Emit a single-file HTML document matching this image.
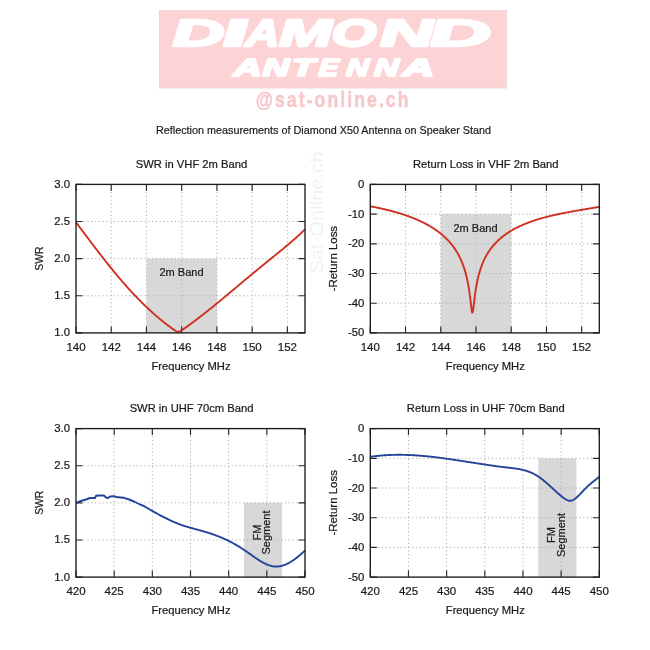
<!DOCTYPE html>
<html><head><meta charset="utf-8"><style>
html,body{margin:0;padding:0;background:#fff;width:650px;height:650px;overflow:hidden}
svg{display:block;will-change:transform}
text{font-family:"Liberation Sans",sans-serif}
</style></head><body>
<svg width="650" height="650" viewBox="0 0 650 650" font-family="Liberation Sans, sans-serif">
<rect width="650" height="650" fill="#fff"/>

<rect x="159.5" y="10.5" width="347" height="77.5" fill="#fdd4d6" stroke="#ecd6d6" stroke-width="1"/>
<g font-weight="bold" font-style="italic" fill="#fff" stroke="#fff" stroke-width="2.4" stroke-linejoin="round">
<text transform="matrix(1.909,0,0.072,1,173.05,46.10)" font-size="37.96">D</text>
<text transform="matrix(2.392,0,0.167,1,223.80,46.10)" font-size="37.96">I</text>
<text transform="matrix(1.229,0,-0.060,1,245.14,46.10)" font-size="37.96">A</text>
<text transform="matrix(1.679,0,0.027,1,279.19,46.10)" font-size="37.96">M</text>
<text transform="matrix(1.518,0,-0.004,1,331.61,46.10)" font-size="37.96">O</text>
<text transform="matrix(1.976,0,0.085,1,380.51,46.10)" font-size="37.96">N</text>
<text transform="matrix(2.263,0,0.141,1,430.84,46.10)" font-size="37.96">D</text>
</g>
<g font-weight="bold" font-style="italic" fill="#fff" stroke="#fff" stroke-width="2.0" stroke-linejoin="round">
<text transform="matrix(1.581,0,-0.012,1,233.58,75.70)" font-size="24.58">A</text>
<text transform="matrix(1.488,0,-0.030,1,262.42,75.70)" font-size="24.58">N</text>
<text transform="matrix(1.520,0,-0.024,1,291.61,75.70)" font-size="24.58">T</text>
<text transform="matrix(1.203,0,-0.085,1,317.95,75.70)" font-size="24.58">E</text>
<text transform="matrix(1.259,0,-0.074,1,345.81,75.70)" font-size="24.58">N</text>
<text transform="matrix(1.370,0,-0.053,1,373.67,75.70)" font-size="24.58">N</text>
<text transform="matrix(1.783,0,0.028,1,402.38,75.70)" font-size="24.58">A</text>
</g>
<text transform="translate(255.7,106.6) scale(0.8,1)" x="0" y="0" font-size="22" font-weight="bold" fill="#f6c8cb" stroke="#f6c8cb" stroke-width="0.5" textLength="191" lengthAdjust="spacing">@sat-online.ch</text>
<text transform="translate(323,212.6) rotate(-90)" font-size="18.5" text-anchor="middle" fill="#f1f1f1" textLength="122" lengthAdjust="spacingAndGlyphs">Sat-Online.ch</text>
<text x="323.5" y="134.2" font-size="11.4" text-anchor="middle" fill="#1a1a1a" stroke="#1a1a1a" stroke-width="0.2" textLength="335" lengthAdjust="spacingAndGlyphs">Reflection measurements of Diamond X50 Antenna on Speaker Stand</text>

<g stroke-width="0">
<rect x="146.46" y="258.65" width="70.46" height="74.25" fill="#d8d8d8"/>
<path d="M111.23 184.4V332.9M146.46 184.4V332.9M181.69 184.4V332.9M216.92 184.4V332.9M252.15 184.4V332.9M287.38 184.4V332.9M76 295.77H305M76 258.65H305M76 221.53H305" stroke="#b0b0b0" stroke-width="1" stroke-dasharray="1.2 2.6" fill="none"/>
<path d="M76 332.9v-6.5M76 184.4v6.5M111.23 332.9v-6.5M111.23 184.4v6.5M146.46 332.9v-6.5M146.46 184.4v6.5M181.69 332.9v-6.5M181.69 184.4v6.5M216.92 332.9v-6.5M216.92 184.4v6.5M252.15 332.9v-6.5M252.15 184.4v6.5M287.38 332.9v-6.5M287.38 184.4v6.5M76 332.9h6.5M305 332.9h-6.5M76 295.77h6.5M305 295.77h-6.5M76 258.65h6.5M305 258.65h-6.5M76 221.53h6.5M305 221.53h-6.5M76 184.4h6.5M305 184.4h-6.5" stroke="#2a2a2a" stroke-width="1.15" fill="none"/>
<text x="181.5" y="276" font-size="11" text-anchor="middle" fill="#1a1a1a" stroke="#1a1a1a" stroke-width="0.22" >2m Band</text>
<polyline points="76,222.38 76.46,222.98 76.92,223.59 77.38,224.19 77.84,224.8 78.29,225.4 78.75,226.01 79.21,226.62 79.67,227.23 80.13,227.83 80.59,228.44 81.05,229.05 81.51,229.66 81.97,230.27 82.42,230.88 82.88,231.49 83.34,232.1 83.8,232.7 84.26,233.31 84.72,233.92 85.18,234.53 85.64,235.14 86.1,235.75 86.56,236.36 87.01,236.97 87.47,237.58 87.93,238.19 88.39,238.79 88.85,239.4 89.31,240.01 89.77,240.62 90.23,241.22 90.69,241.83 91.14,242.44 91.6,243.04 92.06,243.65 92.52,244.25 92.98,244.86 93.44,245.46 93.9,246.07 94.36,246.67 94.82,247.27 95.27,247.87 95.73,248.48 96.19,249.08 96.65,249.68 97.11,250.27 97.57,250.87 98.03,251.47 98.49,252.07 98.95,252.66 99.4,253.26 99.86,253.85 100.32,254.45 100.78,255.04 101.24,255.63 101.7,256.22 102.16,256.81 102.62,257.4 103.08,257.99 103.54,258.58 103.99,259.16 104.45,259.75 104.91,260.33 105.37,260.91 105.83,261.5 106.29,262.08 106.75,262.66 107.21,263.23 107.67,263.81 108.12,264.39 108.58,264.96 109.04,265.54 109.5,266.11 109.96,266.68 110.42,267.25 110.88,267.82 111.34,268.38 111.8,268.95 112.25,269.51 112.71,270.08 113.17,270.64 113.63,271.2 114.09,271.76 114.55,272.31 115.01,272.87 115.47,273.43 115.93,273.98 116.38,274.53 116.84,275.08 117.3,275.63 117.76,276.18 118.22,276.72 118.68,277.27 119.14,277.81 119.6,278.35 120.06,278.89 120.52,279.43 120.97,279.96 121.43,280.5 121.89,281.03 122.35,281.56 122.81,282.09 123.27,282.62 123.73,283.15 124.19,283.67 124.65,284.19 125.1,284.71 125.56,285.23 126.02,285.75 126.48,286.27 126.94,286.78 127.4,287.3 127.86,287.81 128.32,288.32 128.78,288.83 129.23,289.33 129.69,289.84 130.15,290.34 130.61,290.84 131.07,291.34 131.53,291.83 131.99,292.33 132.45,292.82 132.91,293.32 133.36,293.81 133.82,294.29 134.28,294.78 134.74,295.27 135.2,295.75 135.66,296.23 136.12,296.71 136.58,297.19 137.04,297.66 137.49,298.14 137.95,298.61 138.41,299.08 138.87,299.55 139.33,300.01 139.79,300.48 140.25,300.94 140.71,301.4 141.17,301.86 141.63,302.32 142.08,302.77 142.54,303.23 143,303.68 143.46,304.13 143.92,304.57 144.38,305.02 144.84,305.46 145.3,305.91 145.76,306.35 146.21,306.79 146.67,307.22 147.13,307.66 147.59,308.09 148.05,308.52 148.51,308.95 148.97,309.38 149.43,309.8 149.89,310.23 150.34,310.65 150.8,311.07 151.26,311.49 151.72,311.9 152.18,312.32 152.64,312.73 153.1,313.14 153.56,313.55 154.02,313.95 154.47,314.36 154.93,314.76 155.39,315.16 155.85,315.56 156.31,315.96 156.77,316.36 157.23,316.75 157.69,317.14 158.15,317.53 158.61,317.92 159.06,318.31 159.52,318.69 159.98,319.07 160.44,319.45 160.9,319.83 161.36,320.21 161.82,320.58 162.28,320.96 162.74,321.33 163.19,321.7 163.65,322.06 164.11,322.43 164.57,322.79 165.03,323.15 165.49,323.51 165.95,323.87 166.41,324.23 166.87,324.58 167.32,324.93 167.78,325.28 168.24,325.63 168.7,325.98 169.16,326.32 169.62,326.66 170.08,327 170.54,327.34 171,327.67 171.45,328 171.91,328.33 172.37,328.66 172.83,328.98 173.29,329.3 173.75,329.61 174.21,329.92 174.67,330.23 175.13,330.52 175.59,330.81 176.04,331.08 176.5,331.32 176.96,331.54 177.42,331.71 177.88,331.81 178.34,331.82 178.8,331.74 179.26,331.59 179.72,331.39 180.17,331.15 180.63,330.89 181.09,330.61 181.55,330.32 182.01,330.03 182.47,329.72 182.93,329.42 183.39,329.11 183.85,328.79 184.3,328.48 184.76,328.16 185.22,327.84 185.68,327.52 186.14,327.2 186.6,326.87 187.06,326.54 187.52,326.22 187.98,325.89 188.43,325.56 188.89,325.22 189.35,324.89 189.81,324.56 190.27,324.22 190.73,323.88 191.19,323.55 191.65,323.21 192.11,322.87 192.57,322.53 193.02,322.19 193.48,321.85 193.94,321.5 194.4,321.16 194.86,320.81 195.32,320.47 195.78,320.12 196.24,319.77 196.7,319.43 197.15,319.08 197.61,318.73 198.07,318.38 198.53,318.02 198.99,317.67 199.45,317.32 199.91,316.96 200.37,316.61 200.83,316.25 201.28,315.9 201.74,315.54 202.2,315.18 202.66,314.83 203.12,314.47 203.58,314.11 204.04,313.75 204.5,313.38 204.96,313.02 205.41,312.66 205.87,312.3 206.33,311.93 206.79,311.57 207.25,311.2 207.71,310.84 208.17,310.47 208.63,310.11 209.09,309.74 209.55,309.37 210,309 210.46,308.63 210.92,308.26 211.38,307.89 211.84,307.52 212.3,307.15 212.76,306.78 213.22,306.41 213.68,306.03 214.13,305.66 214.59,305.29 215.05,304.91 215.51,304.54 215.97,304.16 216.43,303.79 216.89,303.41 217.35,303.04 217.81,302.66 218.26,302.28 218.72,301.9 219.18,301.53 219.64,301.15 220.1,300.77 220.56,300.39 221.02,300.01 221.48,299.63 221.94,299.25 222.39,298.87 222.85,298.49 223.31,298.11 223.77,297.73 224.23,297.35 224.69,296.97 225.15,296.59 225.61,296.2 226.07,295.82 226.53,295.44 226.98,295.06 227.44,294.67 227.9,294.29 228.36,293.91 228.82,293.53 229.28,293.14 229.74,292.76 230.2,292.37 230.66,291.99 231.11,291.61 231.57,291.22 232.03,290.84 232.49,290.46 232.95,290.07 233.41,289.69 233.87,289.3 234.33,288.92 234.79,288.53 235.24,288.15 235.7,287.77 236.16,287.38 236.62,287 237.08,286.61 237.54,286.23 238,285.84 238.46,285.46 238.92,285.08 239.37,284.69 239.83,284.31 240.29,283.92 240.75,283.54 241.21,283.16 241.67,282.77 242.13,282.39 242.59,282.01 243.05,281.62 243.51,281.24 243.96,280.86 244.42,280.47 244.88,280.09 245.34,279.71 245.8,279.33 246.26,278.94 246.72,278.56 247.18,278.18 247.64,277.8 248.09,277.42 248.55,277.03 249.01,276.65 249.47,276.27 249.93,275.89 250.39,275.51 250.85,275.13 251.31,274.75 251.77,274.37 252.22,273.99 252.68,273.61 253.14,273.23 253.6,272.85 254.06,272.47 254.52,272.1 254.98,271.72 255.44,271.34 255.9,270.96 256.35,270.58 256.81,270.21 257.27,269.83 257.73,269.45 258.19,269.07 258.65,268.7 259.11,268.32 259.57,267.95 260.03,267.57 260.48,267.19 260.94,266.82 261.4,266.44 261.86,266.07 262.32,265.69 262.78,265.32 263.24,264.94 263.7,264.57 264.16,264.2 264.62,263.82 265.07,263.45 265.53,263.08 265.99,262.7 266.45,262.33 266.91,261.96 267.37,261.58 267.83,261.21 268.29,260.84 268.75,260.46 269.2,260.09 269.66,259.72 270.12,259.35 270.58,258.97 271.04,258.6 271.5,258.23 271.96,257.86 272.42,257.48 272.88,257.11 273.33,256.74 273.79,256.37 274.25,255.99 274.71,255.62 275.17,255.25 275.63,254.88 276.09,254.5 276.55,254.13 277.01,253.76 277.46,253.38 277.92,253.01 278.38,252.63 278.84,252.26 279.3,251.89 279.76,251.51 280.22,251.13 280.68,250.76 281.14,250.38 281.6,250.01 282.05,249.63 282.51,249.25 282.97,248.87 283.43,248.49 283.89,248.11 284.35,247.73 284.81,247.35 285.27,246.97 285.73,246.59 286.18,246.21 286.64,245.82 287.1,245.44 287.56,245.05 288.02,244.67 288.48,244.28 288.94,243.89 289.4,243.5 289.86,243.11 290.31,242.72 290.77,242.33 291.23,241.93 291.69,241.54 292.15,241.14 292.61,240.74 293.07,240.34 293.53,239.94 293.99,239.54 294.44,239.14 294.9,238.73 295.36,238.33 295.82,237.92 296.28,237.51 296.74,237.09 297.2,236.68 297.66,236.26 298.12,235.84 298.58,235.42 299.03,235 299.49,234.58 299.95,234.15 300.41,233.72 300.87,233.29 301.33,232.85 301.79,232.42 302.25,231.98 302.71,231.54 303.16,231.09 303.62,230.64 304.08,230.19 304.54,229.74 305,229.28" fill="none" stroke="#d0301f" stroke-width="1.9" stroke-linejoin="round"/>
<rect x="76" y="184.4" width="229" height="148.5" fill="none" stroke="#1c1c1c" stroke-width="1.35"/>
<text x="76" y="351.2" font-size="11.5" text-anchor="middle" fill="#1a1a1a" stroke="#1a1a1a" stroke-width="0.22" >140</text>
<text x="111.23" y="351.2" font-size="11.5" text-anchor="middle" fill="#1a1a1a" stroke="#1a1a1a" stroke-width="0.22" >142</text>
<text x="146.46" y="351.2" font-size="11.5" text-anchor="middle" fill="#1a1a1a" stroke="#1a1a1a" stroke-width="0.22" >144</text>
<text x="181.69" y="351.2" font-size="11.5" text-anchor="middle" fill="#1a1a1a" stroke="#1a1a1a" stroke-width="0.22" >146</text>
<text x="216.92" y="351.2" font-size="11.5" text-anchor="middle" fill="#1a1a1a" stroke="#1a1a1a" stroke-width="0.22" >148</text>
<text x="252.15" y="351.2" font-size="11.5" text-anchor="middle" fill="#1a1a1a" stroke="#1a1a1a" stroke-width="0.22" >150</text>
<text x="287.38" y="351.2" font-size="11.5" text-anchor="middle" fill="#1a1a1a" stroke="#1a1a1a" stroke-width="0.22" >152</text>
<text x="70" y="336.4" font-size="11.3" text-anchor="end" fill="#1a1a1a" stroke="#1a1a1a" stroke-width="0.22" >1.0</text>
<text x="70" y="299.27" font-size="11.3" text-anchor="end" fill="#1a1a1a" stroke="#1a1a1a" stroke-width="0.22" >1.5</text>
<text x="70" y="262.15" font-size="11.3" text-anchor="end" fill="#1a1a1a" stroke="#1a1a1a" stroke-width="0.22" >2.0</text>
<text x="70" y="225.03" font-size="11.3" text-anchor="end" fill="#1a1a1a" stroke="#1a1a1a" stroke-width="0.22" >2.5</text>
<text x="70" y="187.9" font-size="11.3" text-anchor="end" fill="#1a1a1a" stroke="#1a1a1a" stroke-width="0.22" >3.0</text>
<text x="191.5" y="168.2" font-size="11.2" text-anchor="middle" fill="#1a1a1a" stroke="#1a1a1a" stroke-width="0.22" >SWR in VHF 2m Band</text>
<text x="191" y="369.7" font-size="11.2" text-anchor="middle" fill="#1a1a1a" stroke="#1a1a1a" stroke-width="0.22" >Frequency MHz</text>
<text transform="translate(42.5,258.65) rotate(-90)" font-size="11" text-anchor="middle" fill="#1a1a1a" stroke="#1a1a1a" stroke-width="0.22" textLength="24" lengthAdjust="spacingAndGlyphs">SWR</text>
<rect x="440.76" y="214.1" width="70.46" height="118.8" fill="#d8d8d8"/>
<path d="M405.53 184.4V332.9M440.76 184.4V332.9M475.99 184.4V332.9M511.22 184.4V332.9M546.45 184.4V332.9M581.68 184.4V332.9M370.3 303.2H599.3M370.3 273.5H599.3M370.3 243.8H599.3M370.3 214.1H599.3" stroke="#b0b0b0" stroke-width="1" stroke-dasharray="1.2 2.6" fill="none"/>
<path d="M370.3 332.9v-6.5M370.3 184.4v6.5M405.53 332.9v-6.5M405.53 184.4v6.5M440.76 332.9v-6.5M440.76 184.4v6.5M475.99 332.9v-6.5M475.99 184.4v6.5M511.22 332.9v-6.5M511.22 184.4v6.5M546.45 332.9v-6.5M546.45 184.4v6.5M581.68 332.9v-6.5M581.68 184.4v6.5M370.3 332.9h6.5M599.3 332.9h-6.5M370.3 303.2h6.5M599.3 303.2h-6.5M370.3 273.5h6.5M599.3 273.5h-6.5M370.3 243.8h6.5M599.3 243.8h-6.5M370.3 214.1h6.5M599.3 214.1h-6.5M370.3 184.4h6.5M599.3 184.4h-6.5" stroke="#2a2a2a" stroke-width="1.15" fill="none"/>
<text x="475.5" y="232" font-size="11" text-anchor="middle" fill="#1a1a1a" stroke="#1a1a1a" stroke-width="0.22" >2m Band</text>
<polyline points="370.3,206.31 370.76,206.4 371.22,206.48 371.68,206.57 372.14,206.66 372.59,206.74 373.05,206.83 373.51,206.92 373.97,207.01 374.43,207.1 374.89,207.19 375.35,207.28 375.81,207.38 376.27,207.47 376.72,207.56 377.18,207.66 377.64,207.75 378.1,207.85 378.56,207.95 379.02,208.04 379.48,208.14 379.94,208.24 380.4,208.34 380.86,208.44 381.31,208.54 381.77,208.64 382.23,208.75 382.69,208.85 383.15,208.95 383.61,209.06 384.07,209.16 384.53,209.27 384.99,209.38 385.44,209.49 385.9,209.6 386.36,209.71 386.82,209.82 387.28,209.93 387.74,210.04 388.2,210.16 388.66,210.27 389.12,210.39 389.57,210.5 390.03,210.62 390.49,210.74 390.95,210.86 391.41,210.98 391.87,211.1 392.33,211.23 392.79,211.35 393.25,211.47 393.7,211.6 394.16,211.73 394.62,211.85 395.08,211.98 395.54,212.11 396,212.24 396.46,212.38 396.92,212.51 397.38,212.64 397.84,212.78 398.29,212.92 398.75,213.05 399.21,213.19 399.67,213.33 400.13,213.47 400.59,213.62 401.05,213.76 401.51,213.91 401.97,214.05 402.42,214.2 402.88,214.35 403.34,214.5 403.8,214.65 404.26,214.8 404.72,214.96 405.18,215.11 405.64,215.27 406.1,215.43 406.55,215.59 407.01,215.75 407.47,215.91 407.93,216.08 408.39,216.24 408.85,216.41 409.31,216.58 409.77,216.75 410.23,216.92 410.68,217.1 411.14,217.27 411.6,217.45 412.06,217.63 412.52,217.81 412.98,217.99 413.44,218.17 413.9,218.36 414.36,218.55 414.82,218.74 415.27,218.93 415.73,219.12 416.19,219.32 416.65,219.51 417.11,219.71 417.57,219.91 418.03,220.12 418.49,220.32 418.95,220.53 419.4,220.74 419.86,220.95 420.32,221.16 420.78,221.38 421.24,221.59 421.7,221.81 422.16,222.04 422.62,222.26 423.08,222.49 423.53,222.72 423.99,222.95 424.45,223.19 424.91,223.42 425.37,223.66 425.83,223.91 426.29,224.15 426.75,224.4 427.21,224.65 427.66,224.9 428.12,225.16 428.58,225.42 429.04,225.68 429.5,225.95 429.96,226.22 430.42,226.49 430.88,226.77 431.34,227.05 431.79,227.33 432.25,227.61 432.71,227.9 433.17,228.2 433.63,228.49 434.09,228.8 434.55,229.1 435.01,229.41 435.47,229.72 435.93,230.04 436.38,230.36 436.84,230.69 437.3,231.02 437.76,231.35 438.22,231.69 438.68,232.04 439.14,232.39 439.6,232.74 440.06,233.1 440.51,233.46 440.97,233.84 441.43,234.21 441.89,234.59 442.35,234.98 442.81,235.38 443.27,235.78 443.73,236.19 444.19,236.6 444.64,237.02 445.1,237.45 445.56,237.89 446.02,238.33 446.48,238.78 446.94,239.24 447.4,239.71 447.86,240.19 448.32,240.68 448.77,241.17 449.23,241.68 449.69,242.2 450.15,242.72 450.61,243.26 451.07,243.81 451.53,244.37 451.99,244.95 452.45,245.53 452.91,246.13 453.36,246.75 453.82,247.38 454.28,248.03 454.74,248.69 455.2,249.37 455.66,250.07 456.12,250.78 456.58,251.52 457.04,252.28 457.49,253.06 457.95,253.87 458.41,254.7 458.87,255.56 459.33,256.45 459.79,257.36 460.25,258.32 460.71,259.3 461.17,260.33 461.62,261.39 462.08,262.51 462.54,263.67 463,264.88 463.46,266.15 463.92,267.48 464.38,268.88 464.84,270.36 465.3,271.92 465.75,273.58 466.21,275.35 466.67,277.24 467.13,279.26 467.59,281.44 468.05,283.79 468.51,286.35 468.95,289.01 468.97,289.14 469.07,289.78 469.19,290.56 469.3,291.36 469.42,292.18 469.43,292.2 469.54,293.03 469.66,293.89 469.78,294.77 469.89,295.55 469.9,295.67 470.02,296.6 470.14,297.54 470.26,298.5 470.34,299.19 470.38,299.48 470.5,300.48 470.62,301.49 470.74,302.51 470.8,303.08 470.86,303.54 470.98,304.57 471.1,305.59 471.22,306.6 471.26,306.99 471.33,307.58 471.45,308.53 471.57,309.42 471.69,310.24 471.72,310.42 471.81,310.97 471.93,311.6 472.05,312.09 472.17,312.45 472.18,312.47 472.29,312.66 472.41,312.7 472.53,312.58 472.64,312.33 472.65,312.3 472.77,311.88 472.89,311.32 473.01,310.64 473.1,310.06 473.13,309.87 473.25,309.02 473.36,308.1 473.48,307.14 473.56,306.55 473.6,306.15 473.72,305.14 473.84,304.12 473.96,303.1 474.02,302.65 474.08,302.08 474.2,301.07 474.32,300.08 474.44,299.1 474.47,298.82 474.56,298.13 474.68,297.19 474.8,296.26 474.92,295.36 474.93,295.24 475.04,294.47 475.16,293.61 475.28,292.76 475.39,291.96 475.4,291.94 475.51,291.13 475.63,290.35 475.75,289.58 475.85,288.97 475.87,288.83 475.99,288.1 476.31,286.23 476.77,283.73 477.23,281.43 477.69,279.3 478.15,277.32 478.6,275.48 479.06,273.76 479.52,272.14 479.98,270.62 480.44,269.18 480.9,267.81 481.36,266.51 481.82,265.28 482.28,264.1 482.73,262.98 483.19,261.9 483.65,260.87 484.11,259.88 484.57,258.92 485.03,258 485.49,257.11 485.95,256.26 486.41,255.43 486.87,254.63 487.32,253.86 487.78,253.1 488.24,252.38 488.7,251.67 489.16,250.98 489.62,250.31 490.08,249.66 490.54,249.03 491,248.41 491.45,247.81 491.91,247.23 492.37,246.65 492.83,246.1 493.29,245.55 493.75,245.02 494.21,244.5 494.67,243.99 495.13,243.49 495.58,243 496.04,242.52 496.5,242.05 496.96,241.6 497.42,241.15 497.88,240.71 498.34,240.27 498.8,239.85 499.26,239.43 499.71,239.03 500.17,238.62 500.63,238.23 501.09,237.84 501.55,237.46 502.01,237.09 502.47,236.72 502.93,236.36 503.39,236.01 503.85,235.66 504.3,235.31 504.76,234.98 505.22,234.64 505.68,234.32 506.14,233.99 506.6,233.68 507.06,233.36 507.52,233.05 507.98,232.75 508.43,232.45 508.89,232.16 509.35,231.87 509.81,231.58 510.27,231.3 510.73,231.02 511.19,230.75 511.65,230.47 512.11,230.21 512.56,229.94 513.02,229.68 513.48,229.43 513.94,229.17 514.4,228.92 514.86,228.68 515.32,228.44 515.78,228.19 516.24,227.96 516.69,227.72 517.15,227.49 517.61,227.26 518.07,227.04 518.53,226.82 518.99,226.6 519.45,226.38 519.91,226.16 520.37,225.95 520.83,225.74 521.28,225.53 521.74,225.33 522.2,225.13 522.66,224.93 523.12,224.73 523.58,224.53 524.04,224.34 524.5,224.15 524.96,223.96 525.41,223.77 525.87,223.59 526.33,223.4 526.79,223.22 527.25,223.04 527.71,222.86 528.17,222.69 528.63,222.52 529.09,222.34 529.54,222.17 530,222.01 530.46,221.84 530.92,221.68 531.38,221.51 531.84,221.35 532.3,221.19 532.76,221.03 533.22,220.88 533.67,220.72 534.13,220.57 534.59,220.42 535.05,220.27 535.51,220.12 535.97,219.97 536.43,219.83 536.89,219.68 537.35,219.54 537.81,219.4 538.26,219.26 538.72,219.12 539.18,218.98 539.64,218.84 540.1,218.71 540.56,218.58 541.02,218.44 541.48,218.31 541.94,218.18 542.39,218.05 542.85,217.92 543.31,217.8 543.77,217.67 544.23,217.55 544.69,217.42 545.15,217.3 545.61,217.18 546.07,217.06 546.52,216.94 546.98,216.82 547.44,216.7 547.9,216.59 548.36,216.47 548.82,216.36 549.28,216.24 549.74,216.13 550.2,216.02 550.65,215.91 551.11,215.8 551.57,215.69 552.03,215.58 552.49,215.48 552.95,215.37 553.41,215.26 553.87,215.16 554.33,215.05 554.78,214.95 555.24,214.85 555.7,214.75 556.16,214.65 556.62,214.54 557.08,214.45 557.54,214.35 558,214.25 558.46,214.15 558.92,214.05 559.37,213.96 559.83,213.86 560.29,213.77 560.75,213.67 561.21,213.58 561.67,213.48 562.13,213.39 562.59,213.3 563.05,213.21 563.5,213.12 563.96,213.03 564.42,212.94 564.88,212.85 565.34,212.76 565.8,212.67 566.26,212.58 566.72,212.49 567.18,212.41 567.63,212.32 568.09,212.23 568.55,212.15 569.01,212.06 569.47,211.98 569.93,211.89 570.39,211.81 570.85,211.72 571.31,211.64 571.76,211.56 572.22,211.47 572.68,211.39 573.14,211.31 573.6,211.23 574.06,211.15 574.52,211.06 574.98,210.98 575.44,210.9 575.9,210.82 576.35,210.74 576.81,210.66 577.27,210.58 577.73,210.5 578.19,210.42 578.65,210.34 579.11,210.26 579.57,210.19 580.03,210.11 580.48,210.03 580.94,209.95 581.4,209.87 581.86,209.79 582.32,209.72 582.78,209.64 583.24,209.56 583.7,209.48 584.16,209.4 584.61,209.33 585.07,209.25 585.53,209.17 585.99,209.09 586.45,209.02 586.91,208.94 587.37,208.86 587.83,208.78 588.29,208.71 588.74,208.63 589.2,208.55 589.66,208.47 590.12,208.4 590.58,208.32 591.04,208.24 591.5,208.16 591.96,208.08 592.42,208.01 592.88,207.93 593.33,207.85 593.79,207.77 594.25,207.69 594.71,207.61 595.17,207.54 595.63,207.46 596.09,207.38 596.55,207.3 597.01,207.22 597.46,207.14 597.92,207.06 598.38,206.98 598.84,206.9 599.3,206.82" fill="none" stroke="#d0301f" stroke-width="1.9" stroke-linejoin="round"/>
<rect x="370.3" y="184.4" width="229" height="148.5" fill="none" stroke="#1c1c1c" stroke-width="1.35"/>
<text x="370.3" y="351.2" font-size="11.5" text-anchor="middle" fill="#1a1a1a" stroke="#1a1a1a" stroke-width="0.22" >140</text>
<text x="405.53" y="351.2" font-size="11.5" text-anchor="middle" fill="#1a1a1a" stroke="#1a1a1a" stroke-width="0.22" >142</text>
<text x="440.76" y="351.2" font-size="11.5" text-anchor="middle" fill="#1a1a1a" stroke="#1a1a1a" stroke-width="0.22" >144</text>
<text x="475.99" y="351.2" font-size="11.5" text-anchor="middle" fill="#1a1a1a" stroke="#1a1a1a" stroke-width="0.22" >146</text>
<text x="511.22" y="351.2" font-size="11.5" text-anchor="middle" fill="#1a1a1a" stroke="#1a1a1a" stroke-width="0.22" >148</text>
<text x="546.45" y="351.2" font-size="11.5" text-anchor="middle" fill="#1a1a1a" stroke="#1a1a1a" stroke-width="0.22" >150</text>
<text x="581.68" y="351.2" font-size="11.5" text-anchor="middle" fill="#1a1a1a" stroke="#1a1a1a" stroke-width="0.22" >152</text>
<text x="364.3" y="336.4" font-size="11.3" text-anchor="end" fill="#1a1a1a" stroke="#1a1a1a" stroke-width="0.22" >-50</text>
<text x="364.3" y="306.7" font-size="11.3" text-anchor="end" fill="#1a1a1a" stroke="#1a1a1a" stroke-width="0.22" >-40</text>
<text x="364.3" y="277" font-size="11.3" text-anchor="end" fill="#1a1a1a" stroke="#1a1a1a" stroke-width="0.22" >-30</text>
<text x="364.3" y="247.3" font-size="11.3" text-anchor="end" fill="#1a1a1a" stroke="#1a1a1a" stroke-width="0.22" >-20</text>
<text x="364.3" y="217.6" font-size="11.3" text-anchor="end" fill="#1a1a1a" stroke="#1a1a1a" stroke-width="0.22" >-10</text>
<text x="364.3" y="187.9" font-size="11.3" text-anchor="end" fill="#1a1a1a" stroke="#1a1a1a" stroke-width="0.22" >0</text>
<text x="485.8" y="168.2" font-size="11.2" text-anchor="middle" fill="#1a1a1a" stroke="#1a1a1a" stroke-width="0.22" >Return Loss in VHF 2m Band</text>
<text x="485.3" y="369.7" font-size="11.2" text-anchor="middle" fill="#1a1a1a" stroke="#1a1a1a" stroke-width="0.22" >Frequency MHz</text>
<text transform="translate(337.2,258.65) rotate(-90)" font-size="11" text-anchor="middle" fill="#1a1a1a" stroke="#1a1a1a" stroke-width="0.22" textLength="65.5" lengthAdjust="spacingAndGlyphs">-Return Loss</text>
<rect x="243.93" y="502.85" width="38.17" height="74.25" fill="#d8d8d8"/>
<path d="M114.17 428.6V577.1M152.33 428.6V577.1M190.5 428.6V577.1M228.67 428.6V577.1M266.83 428.6V577.1M76 539.98H305M76 502.85H305M76 465.73H305" stroke="#b0b0b0" stroke-width="1" stroke-dasharray="1.2 2.6" fill="none"/>
<path d="M76 577.1v-6.5M76 428.6v6.5M114.17 577.1v-6.5M114.17 428.6v6.5M152.33 577.1v-6.5M152.33 428.6v6.5M190.5 577.1v-6.5M190.5 428.6v6.5M228.67 577.1v-6.5M228.67 428.6v6.5M266.83 577.1v-6.5M266.83 428.6v6.5M305 577.1v-6.5M305 428.6v6.5M76 577.1h6.5M305 577.1h-6.5M76 539.98h6.5M305 539.98h-6.5M76 502.85h6.5M305 502.85h-6.5M76 465.73h6.5M305 465.73h-6.5M76 428.6h6.5M305 428.6h-6.5" stroke="#2a2a2a" stroke-width="1.15" fill="none"/>
<text transform="translate(261,532.5) rotate(-90)" font-size="11" text-anchor="middle" fill="#1a1a1a" stroke="#1a1a1a" stroke-width="0.22"><tspan x="0" y="-0.3">FM</tspan><tspan x="0" y="9.1">Segment</tspan></text>
<polyline points="76,503 81,501 86,499.5 90,498 95,498 96,495.8 100,495.5 104,495.5 106,497.5 108,498 110,496.5 114,496.2 116,497 121,497.5 124,497.8 129,499.5 134,501.5 140,504.5 142.36,505.28 142.85,505.55 143.35,505.83 143.85,506.1 144.35,506.38 144.85,506.66 145.35,506.94 145.85,507.22 146.35,507.5 146.85,507.78 147.34,508.07 147.84,508.35 148.34,508.64 148.84,508.92 149.34,509.21 149.84,509.49 150.34,509.78 150.84,510.06 151.34,510.35 151.83,510.63 152.33,510.92 152.83,511.2 153.33,511.48 153.83,511.77 154.33,512.05 154.83,512.33 155.33,512.61 155.83,512.89 156.32,513.16 156.82,513.44 157.32,513.72 157.82,513.99 158.32,514.26 158.82,514.53 159.32,514.81 159.82,515.07 160.32,515.34 160.81,515.61 161.31,515.87 161.81,516.14 162.31,516.4 162.81,516.66 163.31,516.92 163.81,517.18 164.31,517.43 164.81,517.69 165.31,517.94 165.8,518.19 166.3,518.44 166.8,518.69 167.3,518.93 167.8,519.18 168.3,519.42 168.8,519.66 169.3,519.89 169.8,520.13 170.29,520.36 170.79,520.59 171.29,520.82 171.79,521.05 172.29,521.28 172.79,521.5 173.29,521.72 173.79,521.94 174.29,522.15 174.78,522.36 175.28,522.57 175.78,522.78 176.28,522.99 176.78,523.19 177.28,523.39 177.78,523.59 178.28,523.78 178.78,523.98 179.27,524.17 179.77,524.35 180.27,524.54 180.77,524.72 181.27,524.89 181.77,525.07 182.27,525.24 182.77,525.41 183.27,525.58 183.76,525.74 184.26,525.91 184.76,526.07 185.26,526.23 185.76,526.38 186.26,526.54 186.76,526.69 187.26,526.84 187.76,526.99 188.25,527.14 188.75,527.28 189.25,527.43 189.75,527.57 190.25,527.71 190.75,527.85 191.25,527.99 191.75,528.13 192.25,528.27 192.75,528.41 193.24,528.54 193.74,528.68 194.24,528.82 194.74,528.95 195.24,529.09 195.74,529.22 196.24,529.36 196.74,529.49 197.24,529.63 197.73,529.76 198.23,529.9 198.73,530.04 199.23,530.17 199.73,530.31 200.23,530.45 200.73,530.59 201.23,530.73 201.73,530.87 202.22,531.01 202.72,531.15 203.22,531.3 203.72,531.44 204.22,531.59 204.72,531.73 205.22,531.88 205.72,532.03 206.22,532.18 206.71,532.33 207.21,532.49 207.71,532.64 208.21,532.8 208.71,532.95 209.21,533.11 209.71,533.27 210.21,533.43 210.71,533.6 211.2,533.76 211.7,533.93 212.2,534.1 212.7,534.27 213.2,534.44 213.7,534.62 214.2,534.79 214.7,534.97 215.2,535.15 215.69,535.33 216.19,535.52 216.69,535.71 217.19,535.9 217.69,536.09 218.19,536.28 218.69,536.48 219.19,536.68 219.69,536.88 220.19,537.08 220.68,537.29 221.18,537.5 221.68,537.71 222.18,537.92 222.68,538.14 223.18,538.35 223.68,538.57 224.18,538.8 224.68,539.02 225.17,539.25 225.67,539.48 226.17,539.72 226.67,539.95 227.17,540.19 227.67,540.43 228.17,540.68 228.67,540.92 229.17,541.17 229.66,541.42 230.16,541.68 230.66,541.94 231.16,542.19 231.66,542.46 232.16,542.72 232.66,542.99 233.16,543.26 233.66,543.53 234.15,543.81 234.65,544.09 235.15,544.37 235.65,544.66 236.15,544.94 236.65,545.23 237.15,545.53 237.65,545.82 238.15,546.12 238.64,546.42 239.14,546.73 239.64,547.03 240.14,547.34 240.64,547.66 241.14,547.97 241.64,548.29 242.14,548.61 242.64,548.94 243.14,549.27 243.63,549.6 244.13,549.93 244.63,550.27 245.13,550.61 245.63,550.95 246.13,551.3 246.63,551.64 247.13,551.99 247.63,552.34 248.12,552.7 248.62,553.05 249.12,553.4 249.62,553.76 250.12,554.11 250.62,554.47 251.12,554.82 251.62,555.18 252.12,555.53 252.61,555.88 253.11,556.24 253.61,556.59 254.11,556.93 254.61,557.28 255.11,557.63 255.61,557.97 256.11,558.31 256.61,558.64 257.1,558.97 257.6,559.3 258.1,559.63 258.6,559.95 259.1,560.27 259.6,560.58 260.1,560.89 260.6,561.19 261.1,561.48 261.59,561.77 262.09,562.06 262.59,562.34 263.09,562.61 263.59,562.88 264.09,563.13 264.59,563.39 265.09,563.63 265.59,563.87 266.08,564.09 266.58,564.31 267.08,564.53 267.58,564.73 268.08,564.92 268.58,565.1 269.08,565.28 269.58,565.44 270.08,565.6 270.58,565.74 271.07,565.88 271.57,566 272.07,566.11 272.57,566.21 273.07,566.3 273.57,566.37 274.07,566.44 274.57,566.49 275.07,566.53 275.56,566.55 276.06,566.57 276.56,566.57 277.06,566.55 277.56,566.53 278.06,566.49 278.56,566.44 279.06,566.38 279.56,566.31 280.05,566.22 280.55,566.13 281.05,566.02 281.55,565.9 282.05,565.77 282.55,565.63 283.05,565.47 283.55,565.31 284.05,565.14 284.54,564.95 285.04,564.76 285.54,564.56 286.04,564.34 286.54,564.12 287.04,563.89 287.54,563.64 288.04,563.39 288.54,563.13 289.03,562.86 289.53,562.59 290.03,562.3 290.53,562 291.03,561.7 291.53,561.39 292.03,561.07 292.53,560.74 293.03,560.41 293.53,560.06 294.02,559.71 294.52,559.36 295.02,558.99 295.52,558.62 296.02,558.25 296.52,557.86 297.02,557.47 297.52,557.07 298.02,556.67 298.51,556.26 299.01,555.85 299.51,555.43 300.01,555 300.51,554.57 301.01,554.13 301.51,553.69 302.01,553.25 302.51,552.8 303,552.34 303.5,551.88 304,551.42 304.5,550.95 305,550.48" fill="none" stroke="#24449a" stroke-width="1.9" stroke-linejoin="round"/>
<rect x="76" y="428.6" width="229" height="148.5" fill="none" stroke="#1c1c1c" stroke-width="1.35"/>
<text x="76" y="595.4" font-size="11.5" text-anchor="middle" fill="#1a1a1a" stroke="#1a1a1a" stroke-width="0.22" >420</text>
<text x="114.17" y="595.4" font-size="11.5" text-anchor="middle" fill="#1a1a1a" stroke="#1a1a1a" stroke-width="0.22" >425</text>
<text x="152.33" y="595.4" font-size="11.5" text-anchor="middle" fill="#1a1a1a" stroke="#1a1a1a" stroke-width="0.22" >430</text>
<text x="190.5" y="595.4" font-size="11.5" text-anchor="middle" fill="#1a1a1a" stroke="#1a1a1a" stroke-width="0.22" >435</text>
<text x="228.67" y="595.4" font-size="11.5" text-anchor="middle" fill="#1a1a1a" stroke="#1a1a1a" stroke-width="0.22" >440</text>
<text x="266.83" y="595.4" font-size="11.5" text-anchor="middle" fill="#1a1a1a" stroke="#1a1a1a" stroke-width="0.22" >445</text>
<text x="305" y="595.4" font-size="11.5" text-anchor="middle" fill="#1a1a1a" stroke="#1a1a1a" stroke-width="0.22" >450</text>
<text x="70" y="580.6" font-size="11.3" text-anchor="end" fill="#1a1a1a" stroke="#1a1a1a" stroke-width="0.22" >1.0</text>
<text x="70" y="543.48" font-size="11.3" text-anchor="end" fill="#1a1a1a" stroke="#1a1a1a" stroke-width="0.22" >1.5</text>
<text x="70" y="506.35" font-size="11.3" text-anchor="end" fill="#1a1a1a" stroke="#1a1a1a" stroke-width="0.22" >2.0</text>
<text x="70" y="469.23" font-size="11.3" text-anchor="end" fill="#1a1a1a" stroke="#1a1a1a" stroke-width="0.22" >2.5</text>
<text x="70" y="432.1" font-size="11.3" text-anchor="end" fill="#1a1a1a" stroke="#1a1a1a" stroke-width="0.22" >3.0</text>
<text x="191.5" y="412.4" font-size="11.2" text-anchor="middle" fill="#1a1a1a" stroke="#1a1a1a" stroke-width="0.22" >SWR in UHF 70cm Band</text>
<text x="191" y="613.9" font-size="11.2" text-anchor="middle" fill="#1a1a1a" stroke="#1a1a1a" stroke-width="0.22" >Frequency MHz</text>
<text transform="translate(42.5,502.85) rotate(-90)" font-size="11" text-anchor="middle" fill="#1a1a1a" stroke="#1a1a1a" stroke-width="0.22" textLength="24" lengthAdjust="spacingAndGlyphs">SWR</text>
<rect x="538.23" y="458.3" width="38.17" height="118.8" fill="#d8d8d8"/>
<path d="M408.47 428.6V577.1M446.63 428.6V577.1M484.8 428.6V577.1M522.97 428.6V577.1M561.13 428.6V577.1M370.3 547.4H599.3M370.3 517.7H599.3M370.3 488H599.3M370.3 458.3H599.3" stroke="#b0b0b0" stroke-width="1" stroke-dasharray="1.2 2.6" fill="none"/>
<path d="M370.3 577.1v-6.5M370.3 428.6v6.5M408.47 577.1v-6.5M408.47 428.6v6.5M446.63 577.1v-6.5M446.63 428.6v6.5M484.8 577.1v-6.5M484.8 428.6v6.5M522.97 577.1v-6.5M522.97 428.6v6.5M561.13 577.1v-6.5M561.13 428.6v6.5M599.3 577.1v-6.5M599.3 428.6v6.5M370.3 577.1h6.5M599.3 577.1h-6.5M370.3 547.4h6.5M599.3 547.4h-6.5M370.3 517.7h6.5M599.3 517.7h-6.5M370.3 488h6.5M599.3 488h-6.5M370.3 458.3h6.5M599.3 458.3h-6.5M370.3 428.6h6.5M599.3 428.6h-6.5" stroke="#2a2a2a" stroke-width="1.15" fill="none"/>
<text transform="translate(555.5,535) rotate(-90)" font-size="11" text-anchor="middle" fill="#1a1a1a" stroke="#1a1a1a" stroke-width="0.22"><tspan x="0" y="-0.3">FM</tspan><tspan x="0" y="9.1">Segment</tspan></text>
<polyline points="370.3,456.85 370.8,456.77 371.3,456.7 371.8,456.63 372.3,456.56 372.79,456.49 373.29,456.42 373.79,456.36 374.29,456.29 374.79,456.23 375.29,456.17 375.79,456.11 376.29,456.05 376.79,455.99 377.28,455.94 377.78,455.88 378.28,455.83 378.78,455.78 379.28,455.73 379.78,455.68 380.28,455.63 380.78,455.59 381.28,455.54 381.77,455.5 382.27,455.46 382.77,455.42 383.27,455.38 383.77,455.34 384.27,455.31 384.77,455.27 385.27,455.24 385.77,455.21 386.27,455.18 386.76,455.15 387.26,455.12 387.76,455.09 388.26,455.07 388.76,455.04 389.26,455.02 389.76,455 390.26,454.98 390.76,454.96 391.25,454.94 391.75,454.92 392.25,454.9 392.75,454.89 393.25,454.88 393.75,454.86 394.25,454.85 394.75,454.84 395.25,454.83 395.74,454.83 396.24,454.82 396.74,454.82 397.24,454.81 397.74,454.81 398.24,454.81 398.74,454.81 399.24,454.81 399.74,454.81 400.23,454.81 400.73,454.81 401.23,454.82 401.73,454.82 402.23,454.83 402.73,454.84 403.23,454.85 403.73,454.86 404.23,454.87 404.72,454.88 405.22,454.89 405.72,454.91 406.22,454.92 406.72,454.94 407.22,454.95 407.72,454.97 408.22,454.99 408.72,455.01 409.22,455.03 409.71,455.05 410.21,455.07 410.71,455.1 411.21,455.12 411.71,455.15 412.21,455.17 412.71,455.2 413.21,455.23 413.71,455.26 414.2,455.29 414.7,455.32 415.2,455.35 415.7,455.38 416.2,455.41 416.7,455.45 417.2,455.48 417.7,455.52 418.2,455.56 418.69,455.59 419.19,455.63 419.69,455.67 420.19,455.71 420.69,455.75 421.19,455.79 421.69,455.83 422.19,455.87 422.69,455.92 423.18,455.96 423.68,456.01 424.18,456.05 424.68,456.1 425.18,456.14 425.68,456.19 426.18,456.24 426.68,456.29 427.18,456.34 427.67,456.39 428.17,456.44 428.67,456.49 429.17,456.54 429.67,456.6 430.17,456.65 430.67,456.7 431.17,456.76 431.67,456.81 432.16,456.87 432.66,456.93 433.16,456.98 433.66,457.04 434.16,457.1 434.66,457.16 435.16,457.22 435.66,457.28 436.16,457.34 436.66,457.4 437.15,457.46 437.65,457.52 438.15,457.58 438.65,457.65 439.15,457.71 439.65,457.77 440.15,457.84 440.65,457.9 441.15,457.97 441.64,458.03 442.14,458.1 442.64,458.16 443.14,458.23 443.64,458.3 444.14,458.37 444.64,458.43 445.14,458.5 445.64,458.57 446.13,458.64 446.63,458.71 447.13,458.78 447.63,458.85 448.13,458.92 448.63,458.99 449.13,459.06 449.63,459.14 450.13,459.21 450.62,459.28 451.12,459.35 451.62,459.43 452.12,459.5 452.62,459.57 453.12,459.65 453.62,459.72 454.12,459.79 454.62,459.87 455.11,459.94 455.61,460.02 456.11,460.09 456.61,460.17 457.11,460.24 457.61,460.32 458.11,460.39 458.61,460.47 459.11,460.55 459.61,460.62 460.1,460.7 460.6,460.78 461.1,460.85 461.6,460.93 462.1,461.01 462.6,461.09 463.1,461.16 463.6,461.24 464.1,461.32 464.59,461.39 465.09,461.47 465.59,461.55 466.09,461.63 466.59,461.71 467.09,461.78 467.59,461.86 468.09,461.94 468.59,462.02 469.08,462.1 469.58,462.17 470.08,462.25 470.58,462.33 471.08,462.41 471.58,462.49 472.08,462.56 472.58,462.64 473.08,462.72 473.57,462.8 474.07,462.88 474.57,462.95 475.07,463.03 475.57,463.11 476.07,463.19 476.57,463.26 477.07,463.34 477.57,463.42 478.06,463.5 478.56,463.57 479.06,463.65 479.56,463.73 480.06,463.8 480.56,463.88 481.06,463.96 481.56,464.03 482.06,464.11 482.55,464.18 483.05,464.26 483.55,464.33 484.05,464.41 484.55,464.48 485.05,464.56 485.55,464.63 486.05,464.71 486.55,464.78 487.05,464.85 487.54,464.93 488.04,465 488.54,465.07 489.04,465.15 489.54,465.22 490.04,465.29 490.54,465.36 491.04,465.43 491.54,465.5 492.03,465.57 492.53,465.64 493.03,465.71 493.53,465.78 494.03,465.85 494.53,465.92 495.03,465.99 495.53,466.06 496.03,466.13 496.52,466.19 497.02,466.26 497.52,466.33 498.02,466.39 498.52,466.46 499.02,466.52 499.52,466.59 500.02,466.65 500.52,466.71 501.01,466.78 501.51,466.84 502.01,466.9 502.51,466.96 503.01,467.03 503.51,467.09 504.01,467.15 504.51,467.21 505.01,467.27 505.5,467.32 506,467.38 506.5,467.44 507,467.5 507.5,467.55 508,467.61 508.5,467.66 509,467.72 509.5,467.78 509.99,467.83 510.49,467.89 510.99,467.95 511.49,468.01 511.99,468.07 512.49,468.13 512.99,468.19 513.49,468.26 513.99,468.32 514.49,468.39 514.98,468.46 515.48,468.53 515.98,468.6 516.48,468.68 516.98,468.75 517.48,468.83 517.98,468.92 518.48,469 518.98,469.09 519.47,469.19 519.97,469.28 520.47,469.38 520.97,469.48 521.47,469.59 521.97,469.7 522.47,469.82 522.97,469.94 523.47,470.06 523.96,470.19 524.46,470.32 524.96,470.46 525.46,470.6 525.96,470.75 526.46,470.91 526.96,471.07 527.46,471.23 527.96,471.4 528.45,471.58 528.95,471.76 529.45,471.95 529.95,472.15 530.45,472.35 530.95,472.56 531.45,472.77 531.95,473 532.45,473.23 532.94,473.46 533.44,473.71 533.94,473.96 534.44,474.22 534.94,474.49 535.44,474.77 535.94,475.05 536.44,475.34 536.94,475.64 537.44,475.95 537.93,476.27 538.43,476.6 538.93,476.94 539.43,477.28 539.93,477.64 540.43,478 540.93,478.37 541.43,478.75 541.93,479.13 542.42,479.52 542.92,479.92 543.42,480.33 543.92,480.73 544.42,481.15 544.92,481.57 545.42,482 545.92,482.43 546.42,482.86 546.91,483.3 547.41,483.74 547.91,484.18 548.41,484.63 548.91,485.08 549.41,485.53 549.91,485.99 550.41,486.44 550.91,486.9 551.4,487.35 551.9,487.81 552.4,488.27 552.9,488.73 553.4,489.18 553.9,489.64 554.4,490.1 554.9,490.55 555.4,491 555.89,491.45 556.39,491.9 556.89,492.34 557.39,492.78 557.89,493.22 558.39,493.66 558.89,494.09 559.39,494.51 559.89,494.93 560.38,495.35 560.88,495.76 561.38,496.16 561.88,496.56 562.38,496.95 562.88,497.34 563.38,497.71 563.88,498.08 564.38,498.44 564.88,498.78 565.37,499.11 565.87,499.41 566.37,499.69 566.87,499.94 567.37,500.17 567.87,500.36 568.37,500.53 568.87,500.65 569.37,500.73 569.86,500.77 570.36,500.77 570.86,500.72 571.36,500.62 571.86,500.48 572.36,500.3 572.86,500.08 573.36,499.82 573.86,499.53 574.35,499.21 574.85,498.86 575.35,498.48 575.85,498.09 576.35,497.67 576.85,497.23 577.35,496.77 577.85,496.31 578.35,495.83 578.84,495.34 579.34,494.84 579.84,494.34 580.34,493.83 580.84,493.31 581.34,492.79 581.84,492.26 582.34,491.74 582.84,491.21 583.33,490.68 583.83,490.15 584.33,489.63 584.83,489.11 585.33,488.6 585.83,488.09 586.33,487.59 586.83,487.09 587.33,486.61 587.83,486.14 588.32,485.68 588.82,485.22 589.32,484.78 589.82,484.35 590.32,483.92 590.82,483.5 591.32,483.09 591.82,482.69 592.32,482.28 592.81,481.89 593.31,481.49 593.81,481.1 594.31,480.71 594.81,480.32 595.31,479.93 595.81,479.54 596.31,479.15 596.81,478.75 597.3,478.36 597.8,477.96 598.3,477.55 598.8,477.14 599.3,476.73" fill="none" stroke="#24449a" stroke-width="1.9" stroke-linejoin="round"/>
<rect x="370.3" y="428.6" width="229" height="148.5" fill="none" stroke="#1c1c1c" stroke-width="1.35"/>
<text x="370.3" y="595.4" font-size="11.5" text-anchor="middle" fill="#1a1a1a" stroke="#1a1a1a" stroke-width="0.22" >420</text>
<text x="408.47" y="595.4" font-size="11.5" text-anchor="middle" fill="#1a1a1a" stroke="#1a1a1a" stroke-width="0.22" >425</text>
<text x="446.63" y="595.4" font-size="11.5" text-anchor="middle" fill="#1a1a1a" stroke="#1a1a1a" stroke-width="0.22" >430</text>
<text x="484.8" y="595.4" font-size="11.5" text-anchor="middle" fill="#1a1a1a" stroke="#1a1a1a" stroke-width="0.22" >435</text>
<text x="522.97" y="595.4" font-size="11.5" text-anchor="middle" fill="#1a1a1a" stroke="#1a1a1a" stroke-width="0.22" >440</text>
<text x="561.13" y="595.4" font-size="11.5" text-anchor="middle" fill="#1a1a1a" stroke="#1a1a1a" stroke-width="0.22" >445</text>
<text x="599.3" y="595.4" font-size="11.5" text-anchor="middle" fill="#1a1a1a" stroke="#1a1a1a" stroke-width="0.22" >450</text>
<text x="364.3" y="580.6" font-size="11.3" text-anchor="end" fill="#1a1a1a" stroke="#1a1a1a" stroke-width="0.22" >-50</text>
<text x="364.3" y="550.9" font-size="11.3" text-anchor="end" fill="#1a1a1a" stroke="#1a1a1a" stroke-width="0.22" >-40</text>
<text x="364.3" y="521.2" font-size="11.3" text-anchor="end" fill="#1a1a1a" stroke="#1a1a1a" stroke-width="0.22" >-30</text>
<text x="364.3" y="491.5" font-size="11.3" text-anchor="end" fill="#1a1a1a" stroke="#1a1a1a" stroke-width="0.22" >-20</text>
<text x="364.3" y="461.8" font-size="11.3" text-anchor="end" fill="#1a1a1a" stroke="#1a1a1a" stroke-width="0.22" >-10</text>
<text x="364.3" y="432.1" font-size="11.3" text-anchor="end" fill="#1a1a1a" stroke="#1a1a1a" stroke-width="0.22" >0</text>
<text x="485.8" y="412.4" font-size="11.2" text-anchor="middle" fill="#1a1a1a" stroke="#1a1a1a" stroke-width="0.22" >Return Loss in UHF 70cm Band</text>
<text x="485.3" y="613.9" font-size="11.2" text-anchor="middle" fill="#1a1a1a" stroke="#1a1a1a" stroke-width="0.22" >Frequency MHz</text>
<text transform="translate(337.2,502.85) rotate(-90)" font-size="11" text-anchor="middle" fill="#1a1a1a" stroke="#1a1a1a" stroke-width="0.22" textLength="65.5" lengthAdjust="spacingAndGlyphs">-Return Loss</text>
</g>
</svg></body></html>
